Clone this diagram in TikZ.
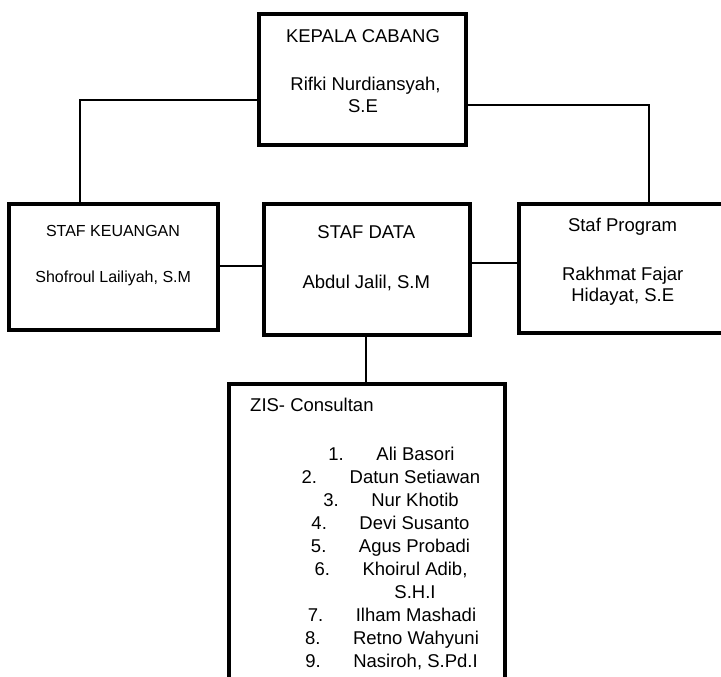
\documentclass[tikz,border=0pt]{standalone}
\usepackage{fontspec}
\setmainfont{Liberation Sans}
\begin{document}
\begin{tikzpicture}[x=1pt,y=-1pt,
  box/.style={draw=black,line width=4.5pt,fill=white,inner sep=0pt},
  txt/.style={inner sep=0pt,anchor=base,font=\fontsize{18.5}{22}\selectfont},
  smalltxt/.style={inner sep=0pt,anchor=base,font=\fontsize{16}{19}\selectfont},
  numtxt/.style={inner sep=0pt,anchor=base west,font=\fontsize{18.5}{22}\selectfont},
  link/.style={draw=black,line width=2pt}
]
\useasboundingbox (0,0) rectangle (721,677);
\clip (0,0) rectangle (721,677);

% boxes
\node[box,minimum width=207pt,minimum height=131pt] (top)  at (362.5,79.5) {};
\node[box,minimum width=209pt,minimum height=126pt] (keu)  at (113.5,267) {};
\node[box,minimum width=206pt,minimum height=131pt] (data) at (367,269.5) {};
\node[box,minimum width=211pt,minimum height=129pt] (prog) at (624.5,268.5) {};
\node[box,minimum width=276pt,minimum height=316pt] (zis)  at (367,542) {};

% connectors
\coordinate (lc) at (80,100);
\coordinate (rc) at (649,105);
\coordinate (m1) at (240,266);
\coordinate (m2) at (495,263);
\coordinate (m3) at (366,360);
\draw[link] (top.west |- lc) -| (keu.north -| lc);
\draw[link] (top.east |- rc) -| (prog.north -| rc);
\draw[link] (keu.east |- m1) -- (data.west |- m1);
\draw[link] (data.east |- m2) -- (prog.west |- m2);
\draw[link] (data.south -| m3) -- (zis.north -| m3);

% top box text
\node[txt] (t1) at (363,42.7) {KEPALA CABANG};
\node[txt] (t2) at (365.5,91) {Rifki Nurdiansyah,};
\node[txt] (t3) at (363,112.7) {S.E};

% keuangan
\node[smalltxt] (k1) at (113,236.7) {STAF KEUANGAN};
\node[smalltxt] (k2) at (113.2,282.7) {Shofroul Lailiyah, S.M};

% data
\node[txt] (d1) at (366.3,238.3) {STAF DATA};
\node[txt] (d2) at (366.3,288.3) {Abdul Jalil, S.M};

% program
\node[txt] (p1) at (622.5,231.7) {Staf Program};
\node[txt] (p2) at (622.7,280) {Rakhmat Fajar};
\node[txt] (p3) at (622.8,301) {Hidayat, S.E};

% ZIS
\node[txt,anchor=base west] (z0) at (250,411.7) {ZIS- Consultan};
\node[txt] (n1) at (415.5,460) {Ali Basori};
\node[txt] (n2) at (415,483) {Datun Setiawan};
\node[txt] (n3) at (415,506) {Nur Khotib};
\node[txt] (n4) at (414.5,529) {Devi Susanto};
\node[txt] (n5) at (414.5,552) {Agus Probadi};
\node[txt] (n6) at (415,575) {Khoirul Adib,};
\node[txt] (n6b) at (415,598) {S.H.I};
\node[txt] (n7) at (416,621) {Ilham Mashadi};
\node[txt] (n8) at (416,644) {Retno Wahyuni};
\node[txt] (n9) at (415.5,667) {Nasiroh, S.Pd.I};
\foreach \k in {1,...,5,7,8,9}{
  \node[numtxt] (num\k) at ([xshift=-48pt]n\k.base west) {\k.};
}
\node[numtxt] (num6) at ([xshift=-48pt]n6.base west) {6.};
\end{tikzpicture}
\end{document}
